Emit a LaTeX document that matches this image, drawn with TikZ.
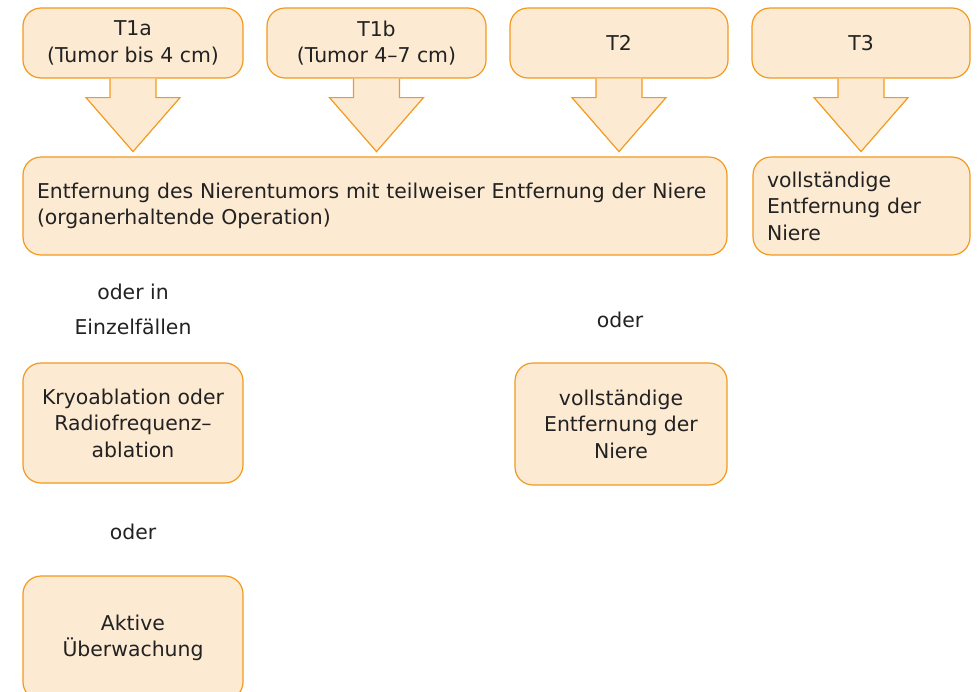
\documentclass[tikz,border=0pt]{standalone}
\usepackage{fontspec}
\setmainfont{DejaVu Sans}
\usetikzlibrary{calc}

\definecolor{boxfill}{HTML}{FDEAD3}
\definecolor{boxline}{HTML}{F39A1E}
\definecolor{ink}{HTML}{222222}

\tikzset{
  box/.style={draw=boxline,fill=boxfill,line width=1.2pt,rounded corners=18pt,
    text=ink,align=center,inner sep=0pt},
  lbl/.style={text=ink,align=center},
  barrow/.style={draw=boxline,fill=boxfill,line width=1.2pt}
}

% block arrow hanging below a box
\newcommand{\bigarrow}[1]{%
  \path[barrow] ($(#1.south)+(-23,0)$) -- ++(0,19) -- ++(-24,0)
    -- ($(#1.south)+(0,73)$) -- ($(#1.south)+(47,19)$) -- ++(-24,0)
    -- ($(#1.south)+(23,0)$);
}

\begin{document}
\begin{tikzpicture}[x=1pt,y=-1pt,font=\fontsize{20.4}{26.5}\selectfont]
\useasboundingbox (0,0) rectangle (980,691);

\node[box,minimum width=220,minimum height=70] (t1a) at (133,43) {T1a\\(Tumor bis 4 cm)};
\node[box,minimum width=219,minimum height=70] (t1b) at (376.5,43) {T1b\\(Tumor 4--7 cm)};
\node[box,minimum width=218,minimum height=70] (t2) at (619,43) {T2};
\node[box,minimum width=218,minimum height=70] (t3) at (861,43) {T3};

\node[box,minimum height=98,text width=676,inner xsep=14,align=left] (op) at (375,206)
  {Entfernung des Nierentumors mit teilweiser Entfernung der Niere\\(organerhaltende Operation)};
\node[box,minimum height=98,text width=189,inner xsep=14,align=left] (nx) at (861.5,206)
  {vollständige\\Entfernung der\\Niere};

\bigarrow{t1a}
\bigarrow{t1b}
\bigarrow{t2}
\bigarrow{t3}

\node[lbl,font=\fontsize{20.4}{35}\selectfont] (oder1) at (133,309) {oder in\\Einzelfällen};
\node[lbl] (oder2) at (620,320) {oder};
\node[lbl] (oder3) at (133,532) {oder};

\node[box,minimum width=220,minimum height=120] (kryo) at (133,423) {Kryoablation oder\\Radiofrequenz--\\ablation};
\node[box,minimum width=212,minimum height=122] (voll) at (621,424) {vollständige\\Entfernung der\\Niere};
\node[box,minimum width=220,minimum height=124] (aktiv) at (133,638) {Aktive\\Überwachung};
\end{tikzpicture}
\end{document}
